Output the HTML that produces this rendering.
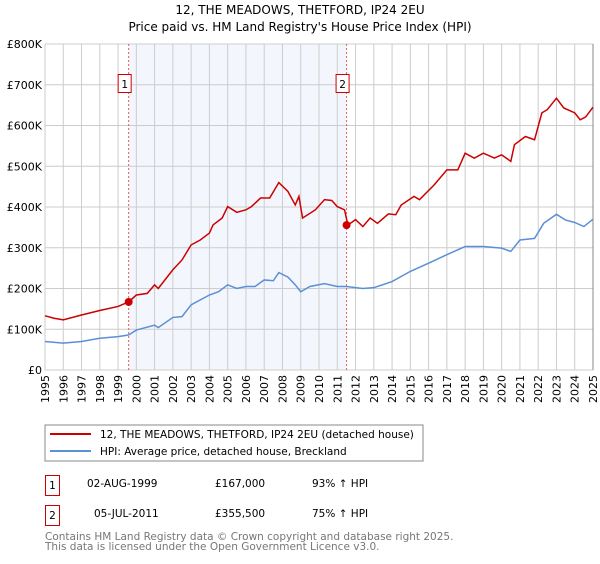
<!DOCTYPE html>
<html><head><meta charset="utf-8"><style>
body{margin:0;background:#fff;font-family:"DejaVu Sans","Liberation Sans",sans-serif;}
svg text{font-family:"DejaVu Sans","Liberation Sans",sans-serif;}
</style></head><body>
<svg id="c" width="600" height="560" viewBox="0 0 600 560" xmlns="http://www.w3.org/2000/svg">
<text x="300" y="14" text-anchor="middle" font-size="12">12, THE MEADOWS, THETFORD, IP24 2EU</text>
<text x="300" y="31" text-anchor="middle" font-size="12">Price paid vs. HM Land Registry's House Price Index (HPI)</text>
<g id="grid"></g><g id="series"></g>
<rect x="45" y="425" width="378" height="36" fill="#fff" stroke="#888"/>
<line x1="50" y1="434" x2="91" y2="434" stroke="#cc0000" stroke-width="2"/>
<text x="100" y="438" font-size="10.5">12, THE MEADOWS, THETFORD, IP24 2EU (detached house)</text>
<line x1="50" y1="451" x2="91" y2="451" stroke="#5b8fd6" stroke-width="2"/>
<text x="100" y="455" font-size="10.5">HPI: Average price, detached house, Breckland</text>
<g>
<rect x="45.5" y="475.5" width="14" height="20" fill="#fff" stroke="#cc0000"/>
<text x="52.5" y="489" text-anchor="middle" font-size="10.5">1</text>
<text x="87" y="487" font-size="10.5">02-AUG-1999</text>
<text x="215" y="487" font-size="10.5">£167,000</text>
<text x="312" y="487" font-size="10.5">93% ↑ HPI</text></g>
<g>
<rect x="45.5" y="505.5" width="14" height="20" fill="#fff" stroke="#cc0000"/>
<text x="52.5" y="519" text-anchor="middle" font-size="10.5">2</text>
<text x="94" y="517" font-size="10.5">05-JUL-2011</text>
<text x="215" y="517" font-size="10.5">£355,500</text>
<text x="312" y="517" font-size="10.5">75% ↑ HPI</text></g>
<text x="45" y="540" font-size="10.5" fill="#777">Contains HM Land Registry data © Crown copyright and database right 2025.</text>
<text x="45" y="550" font-size="10.5" fill="#777">This data is licensed under the Open Government Licence v3.0.</text>
</svg>
<script>
const yTicks=[0,100,200,300,400,500,600,700,800];
const yTickLabels=["£0","£100K","£200K","£300K","£400K","£500K","£600K","£700K","£800K"];
const years=[1995,1996,1997,1998,1999,2000,2001,2002,2003,2004,2005,2006,2007,2008,2009,2010,2011,2012,2013,2014,2015,2016,2017,2018,2019,2020,2021,2022,2023,2024,2025];
const redT=[1995,1995.5,1996,1997,1998,1999,1999.58,2000,2000.6,2001,2001.2,2002,2002.5,2003,2003.5,2004,2004.2,2004.7,2005,2005.5,2006,2006.3,2006.8,2007.3,2007.8,2008.3,2008.7,2008.9,2009.1,2009.8,2010.3,2010.7,2011,2011.4,2011.58,2012,2012.4,2012.8,2013.2,2013.8,2014.2,2014.5,2015.2,2015.5,2016.3,2017,2017.6,2018,2018.5,2019,2019.6,2020,2020.5,2020.7,2021.3,2021.8,2022.2,2022.5,2023,2023.4,2024,2024.3,2024.6,2025];
const redV=[133,127,123,135,146,156,167,184,188,209,200,246,270,307,319,336,356,373,401,387,393,401,422,422,460,438,405,426,373,393,418,416,401,393,355.5,369,352,373,360,383,381,405,426,418,454,491,491,532,520,532,520,528,512,553,573,565,631,639,667,643,631,614,621,645];
const blueT=[1995,1996,1997,1998,1999,1999.58,2000,2001,2001.2,2002,2002.5,2003,2004,2004.5,2005,2005.5,2006,2006.5,2007,2007.5,2007.8,2008.3,2008.7,2009,2009.5,2010.3,2011,2011.5,2012.4,2013,2014,2015,2016,2017,2018,2019,2020,2020.5,2021,2021.8,2022.3,2023,2023.5,2024,2024.5,2025];
const blueV=[70,66,70,78,82,86,98,110,104,129,131,160,184,192,209,200,205,205,221,219,239,228,209,192,205,212,205,205,200,202,217,242,262,283,303,303,299,291,319,323,360,382,368,362,352,370];
const sales=[[1999.58,167],[2011.51,355.5]];
const x0=45,x1=593,yB=370,yT=44;
const X=t=>x0+(t-1995)/30*(x1-x0), Y=v=>yB-v/800*(yB-yT);
const NS="http://www.w3.org/2000/svg";
const g=document.getElementById('grid'), s=document.getElementById('series');
function mk(p,tag,a){const e=document.createElementNS(NS,tag);for(const k in a)e.setAttribute(k,a[k]);p.appendChild(e);return e;}
const sh=mk(g,'rect',{x:X(sales[0][0]),y:yT,width:X(sales[1][0])-X(sales[0][0]),height:yB-yT,fill:'#eef3fc',opacity:0.7});


years.forEach(yr=>{const l=mk(g,'line',{x1:X(yr),x2:X(yr),y1:yT,y2:yB,stroke:'#ccc'});


const t=mk(g,'text',{x:0,y:0,'font-size':11,'text-anchor':'end',transform:`translate(${X(yr)+4},${yB+5}) rotate(-90)`});t.textContent=yr;

});
yTicks.forEach((v,i)=>{const l=mk(g,'line',{x1:x0,x2:x1,y1:Y(v),y2:Y(v),stroke:'#ccc'});


const t=mk(g,'text',{x:x0-3,y:Y(v)+4,'font-size':11,'text-anchor':'end'});t.textContent=yTickLabels[i];

});
const rb=mk(g,'line',{x1:x1,x2:x1,y1:yT,y2:yB,stroke:'#888'});


sales.forEach((sl,i)=>{const l=mk(g,'line',{x1:X(sl[0]),x2:X(sl[0]),y1:yT,y2:yB,stroke:'#e06060','stroke-dasharray':'2,2'});


const b=mk(g,'rect',{x:X(sl[0])-10.5,y:74.5,width:13,height:18,fill:'#fff',stroke:'#cc0000'});


const t=mk(g,'text',{x:X(sl[0])-4,y:88,'font-size':10.5,'text-anchor':'middle'});t.textContent=String(i+1);

});
const pb=mk(s,'polyline',{points:blueT.map((t,i)=>X(t)+','+Y(blueV[i])).join(' '),fill:'none',stroke:'#5b8fd6','stroke-width':1.5});


const pr=mk(s,'polyline',{points:redT.map((t,i)=>X(t)+','+Y(redV[i])).join(' '),fill:'none',stroke:'#cc0000','stroke-width':1.5});


sales.forEach(sl=>{const c=mk(s,'circle',{cx:X(sl[0]),cy:Y(sl[1]),r:4,fill:'#cc0000'});

});
</script>
</body></html>
